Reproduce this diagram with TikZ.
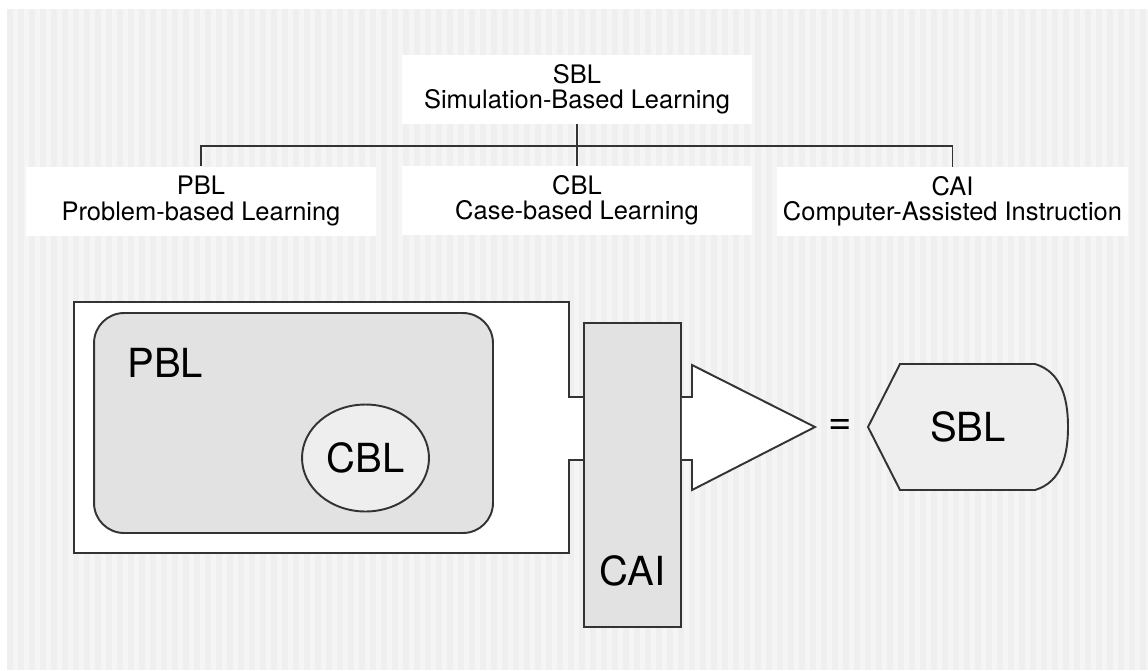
\documentclass[tikz,border=0pt]{standalone}
\usepackage{fontspec}
\setmainfont{TeX Gyre Heros}
\usepackage{tikz}
\usetikzlibrary{shapes.geometric, positioning}
\definecolor{edge}{RGB}{51,51,51}
\definecolor{bgdark}{RGB}{239,239,239}
\definecolor{bglight}{RGB}{245,245,245}
\definecolor{midgray}{RGB}{226,226,226}
\definecolor{lightgray}{RGB}{238,238,238}
\tikzstyle{term} = [rectangle, fill=white, minimum width=7cm, minimum height=1.38cm, align=center, font=\fontsize{14.5}{14.5}\selectfont]
\tikzstyle{tree} = [draw=edge, line width=0.85pt]
\tikzstyle{outline} = [draw=edge, line width=1.1pt]
\tikzstyle{bigtext} = [font=\fontsize{22.8}{26}\selectfont, inner sep=0pt]

\begin{document}
\begin{tikzpicture}[x=0.02cm, y=-0.02cm]
			\useasboundingbox (0,0) rectangle (1148,670);
			% striped background
			\fill[bglight] (7,9) rectangle (1148,670);
			\foreach \x in {7,18,...,1140}
				\fill[bgdark] (\x,9) rectangle ({\x+5.5},670);
			% taxonomy
			\node (sbl) [term] at (577,89.5) {SBL\\Simulation-Based Learning};
			\node (pbl) [term] at (201,201) {PBL\\Problem-based Learning};
			\node (cbl) [term] at (577,200.5) {CBL\\Case-based Learning};
			\node (cai) [term] at (952.5,201.5) {CAI\\Computer-Assisted Instruction};
			\coordinate (hub) at (577,146);
			\draw [tree] (sbl) -- (cbl);
			\draw [tree] (pbl.north) |- (hub) -| (cai.north);
			% frame around PBL with tab
			\path [outline, fill=white] (74,302) -- (569,302) -- (569,397) -- (600,397) -- (600,460) -- (569,460) -- (569,553) -- (74,553) -- cycle;
			\node (pblbox) [outline, fill=midgray, rectangle, rounded corners=0.6cm, minimum width=7.98cm, minimum height=4.4cm] at (293.5,423) {};
			\node (pbltxt) [bigtext, anchor=base west] at ([xshift=0.68cm, yshift=-1.3cm]pblbox.north west) {PBL};
			\node (cblell) [outline, fill=lightgray, ellipse, inner sep=0pt, minimum width=2.54cm, minimum height=2.14cm, font=\fontsize{22.8}{26}\selectfont] at (365.5,458) {CBL};
			% CAI bar
			\node (caibar) [outline, fill=midgray, rectangle, minimum width=1.94cm, minimum height=6.08cm] at (632.5,475) {};
			\node (caitxt) [bigtext, anchor=base] at ([yshift=0.84cm]caibar.south) {CAI};
			% output arrow
			\path [outline, fill=white] (caibar.east |- 0,397) -- (692,397) -- (692,365) -- (815,427) -- (692,490) -- (692,460) -- (caibar.east |- 0,460);
			\node (eq) [bigtext] at (840,427) {=};
			% display shape
			\path [outline, fill=lightgray] (868,427) -- (900,364) -- (1035,364) .. controls (1062,372) and (1068,400) .. (1068,427) .. controls (1068,454) and (1062,482) .. (1035,490) -- (900,490) -- cycle;
			\node (sbldisp) [bigtext] at (968,427) {SBL};
		\end{tikzpicture}
\end{document}
